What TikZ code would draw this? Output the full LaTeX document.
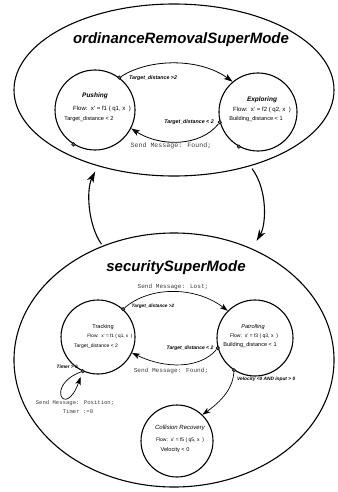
\documentclass[tikz,border=0pt]{standalone}
\usepackage{fontspec}
\setmainfont{Liberation Sans}
\newfontfamily\monof{Liberation Mono}
\usetikzlibrary{shapes.geometric,arrows.meta}
\tikzset{
  super/.style={ellipse,draw,line width=1.1pt,inner sep=0pt},
  stbox/.style={circle,draw,line width=1.1pt,inner sep=0pt},
  dotn/.style={circle,draw,fill=black!60,inner sep=0pt,minimum size=3.6pt,line width=0.5pt},
  trans/.style={line width=0.8pt,-{Stealth[length=9pt,width=6pt,inset=2.5pt]}},
  strans/.style={line width=0.7pt,-{Stealth[length=8pt,width=5.5pt,inset=2.2pt]}},
  bigtrans/.style={line width=1.1pt,-{Stealth[length=11pt,width=7pt,inset=3pt]}},
  ttl/.style={font=\fontsize{15}{17}\selectfont\bfseries\itshape},
  tlab/.style={font=\fontsize{5.3}{6}\selectfont\bfseries\itshape,inner sep=0pt},
  msg/.style={font=\monof\fontsize{6.6}{7.5}\selectfont,text=black!75,inner sep=0pt},
  txt/.style={inner sep=0pt}
}
\begin{document}
\begin{tikzpicture}[x=1pt,y=-1pt]
\useasboundingbox[fill=white] (0,0) rectangle (337,492);
% super modes
\node[super,minimum width=320pt,minimum height=172pt] (top) at (174,90) {};
\node[super,minimum width=320pt,minimum height=254pt] (sec) at (174,360) {};
\node[ttl] (ttop) at (181,40) {ordinanceRemovalSuperMode};
\node[ttl] (tsec) at (176,268) {securitySuperMode};
% ---- top states
\node[stbox,minimum size=80pt] (push) at (95,110) {};
\node[stbox,minimum size=78pt] (explo) at (258,112) {};
\node[txt,font=\fontsize{6.5}{7}\selectfont\bfseries\itshape] (pn) at (95,96) {Pushing};
\node[txt,font=\fontsize{6}{7}\selectfont] (pf) at (102,109) {Flow:\ \ x' = f1 ( q1, x \ )};
\node[txt,font=\fontsize{5.6}{7}\selectfont] (pt) at (89,119) {Target\_distance < 2};
\node[txt,font=\fontsize{6.5}{7}\selectfont\bfseries\itshape] (en) at (262,100) {Exploring};
\node[txt,font=\fontsize{6}{7}\selectfont] (ef) at (262,110) {Flow:\ \ x' = f2 ( q2, x \ )};
\node[txt,font=\fontsize{5.6}{7}\selectfont] (eb) at (256,119) {Building\_distance < 1};
\node[dotn] (pd1) at (push.53) {};
\node[dotn] (pd2) at (push.238) {};
\node[dotn] (ed1) at (explo.195) {};
\node[dotn] (ed2) at (explo.241) {};
\draw[trans] (pd1) .. controls (150,58) and (200,58) .. (explo.130);
\draw[trans] (ed1) .. controls (200,147) and (160,147) .. (push.-27);
\node[tlab] (l1) at (153,78) {Target\_distance >2};
\node[tlab] (l2) at (189,122) {Target\_distance < 2};
\node[msg] (m1) at (171,146) {Send Message: Found;};
% ---- super connectors
\draw[bigtrans,shorten >=6pt,shorten <=2pt] (sec.122) .. controls (88,225) and (86,190) .. (top.225);
\draw[bigtrans,shorten >=9pt,shorten <=3pt] (top.-45) .. controls (268,190) and (266,225) .. (sec.55);
% ---- security states
\node[stbox,minimum size=74pt] (track) at (98,337) {};
\node[stbox,minimum size=76pt] (patrol) at (255,338) {};
\node[stbox,minimum size=72pt] (coll) at (177,441) {};
\node[txt,font=\fontsize{5.6}{7}\selectfont] (tn) at (103,327) {Tracking};
\node[txt,font=\fontsize{4.7}{6}\selectfont] (tf) at (110,336) {Flow:\ \ x' = f1 ( q1, x \ )};
\node[txt,font=\fontsize{5}{6}\selectfont] (tt) at (96,346) {Target\_distance < 2};
\node[txt,font=\fontsize{5.6}{7}\selectfont\itshape] (an) at (253,327) {Patrolling};
\node[txt,font=\fontsize{5}{6}\selectfont] (af) at (254,336) {Flow:\ \ x' = f3 ( q3, x \ )};
\node[txt,font=\fontsize{5.6}{7}\selectfont] (ab) at (250,345) {Building\_distance < 1};
\node[txt,font=\fontsize{6}{7}\selectfont\itshape] (cn) at (180,428) {Collision Recovery};
\node[txt,font=\fontsize{5}{6}\selectfont] (cf) at (180,440) {Flow:\ \ x' = f5 ( q5, x \ )};
\node[txt,font=\fontsize{5.6}{7}\selectfont] (cv) at (175,450) {Velocity < 0};
\node[dotn] (td1) at (track.48) {};
\node[dotn] (td2) at (track.246) {};
\node[dotn] (ad1) at (patrol.195) {};
\node[dotn] (ad2) at (patrol.237) {};
\draw[strans] (td1) .. controls (150,286) and (195,286) .. (patrol.135);
\draw[strans] (ad1) .. controls (200,369) and (165,369) .. (track.-25);
\draw[strans] (ad2) .. controls (233,385) and (226,398) .. (coll.46);
\draw[strans,shorten >=4pt] (td2) .. controls (45,385) and (65,420) .. (td2);
\node[tlab,font=\fontsize{4.7}{6}\selectfont\bfseries\itshape] (l3) at (153,306) {Target\_distance >2};
\node[msg,font=\monof\fontsize{6.1}{7}\selectfont] (m2) at (173,287) {Send Message: Lost;};
\node[tlab,font=\fontsize{5}{6}\selectfont\bfseries\itshape] (l4) at (190,348) {Target\_distance < 2};
\node[msg,font=\monof\fontsize{6.1}{7}\selectfont] (m3) at (171,371) {Send Message: Found;};
\node[tlab,font=\fontsize{4.8}{6}\selectfont\bfseries\itshape,anchor=west] (l5) at (237,379) {Velocity <0 AND input > 0};
\node[tlab,font=\fontsize{4.8}{6}\selectfont\bfseries\itshape,anchor=east] (l6) at (78,367) {Timer > 6};
\node[msg,font=\monof\fontsize{5.6}{7}\selectfont] (m4) at (75,403) {Send Message: Position;};
\node[msg,font=\monof\fontsize{5.6}{7}\selectfont] (m5) at (78,411) {Timer :=0};
\end{tikzpicture}
\end{document}
